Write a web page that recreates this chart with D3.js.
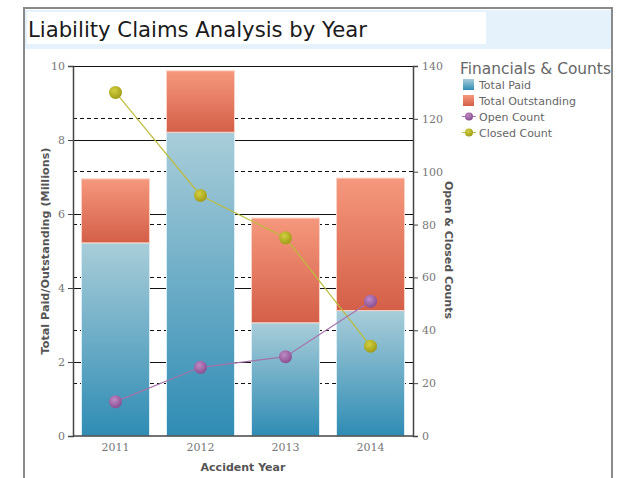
<!DOCTYPE html>
<html><head><meta charset="utf-8">
<script src="https://cdn.jsdelivr.net/npm/d3@7"></script>
<style>body{margin:0;background:#fff}svg{display:block}</style>
</head><body>
<script>
const years = ["2011","2012","2013","2014"];
const totalPaid = [5.22, 8.21, 3.06, 3.39];
const totalOutstanding = [1.73, 1.66, 2.83, 3.58];
const openCount = [13, 26, 30, 51];
const closedCount = [130, 91, 75, 34];
const leftTicks = [0,2,4,6,8,10];
const rightTicks = [0,20,40,60,80,100,120,140];
const legendLabels = ["Total Paid","Total Outstanding","Open Count","Closed Count"];

const W=625,H=478;
const svg=d3.select("body").append("svg").attr("width",W).attr("height",H);
const defs=svg.append("defs");
function lg(id,c1,c2){const g=defs.append("linearGradient").attr("id",id).attr("x1",0).attr("y1",0).attr("x2",0).attr("y2",1);
 g.append("stop").attr("offset","0%").attr("stop-color",c1);g.append("stop").attr("offset","100%").attr("stop-color",c2);}
lg("gPaid","#a9cdd9","#2f8cb4");
lg("gOut","#f5987d","#d45f48");
function rg(id,c1,c2){const g=defs.append("radialGradient").attr("id",id).attr("cx","40%").attr("cy","35%").attr("r","65%");
 g.append("stop").attr("offset","0%").attr("stop-color",c1);g.append("stop").attr("offset","100%").attr("stop-color",c2);}
rg("gOpen","#c08ac4","#8a4f92");
rg("gClosed","#d2d040","#a09c18");

// frame
svg.append("rect").attr("x",24).attr("y",8).attr("width",588).attr("height",480).attr("fill","#fff").attr("stroke","#8a8a8a").attr("stroke-width",2);
svg.append("rect").attr("x",25).attr("y",10).attr("width",586).attr("height",39).attr("fill","#e6f2fb");
svg.append("rect").attr("x",27).attr("y",12).attr("width",459).attr("height",32).attr("fill","#fff");
svg.append("text").attr("x",28).attr("y",37).text("Liability Claims Analysis by Year")
 .attr("font-family","DejaVu Sans").attr("font-size",21.2).attr("fill","#1a1a1a");

const m={l:73,r:413,t:66,b:436};
const x=d3.scaleBand().domain(years).range([m.l,m.r]).paddingInner(0.2).paddingOuter(0.1);
const yL=d3.scaleLinear().domain([0,10]).range([m.b,m.t]);
const yR=d3.scaleLinear().domain([0,140]).range([m.b,m.t]);

// gridlines
svg.append("g").selectAll("line").data(leftTicks.filter(d=>d>0)).join("line")
 .attr("x1",m.l).attr("x2",m.r).attr("y1",d=>yL(d)).attr("y2",d=>yL(d)).attr("stroke","#111").attr("stroke-width",1).attr("shape-rendering","crispEdges");
svg.append("g").selectAll("line").data(rightTicks.filter(d=>d>0&&d<140)).join("line")
 .attr("x1",m.l).attr("x2",m.r).attr("y1",d=>yR(d)).attr("y2",d=>yR(d)).attr("stroke","#111").attr("stroke-dasharray","4,3").attr("shape-rendering","crispEdges");

// bars
const bars=svg.append("g");
bars.selectAll(".paid").data(years).join("rect")
 .attr("x",d=>x(d)).attr("width",x.bandwidth())
 .attr("y",(d,i)=>yL(totalPaid[i])).attr("height",(d,i)=>yL(0)-yL(totalPaid[i]))
 .attr("fill","url(#gPaid)").attr("stroke","#d8eef4").attr("stroke-width",1);
bars.selectAll(".out").data(years).join("rect")
 .attr("x",d=>x(d)).attr("width",x.bandwidth())
 .attr("y",(d,i)=>yL(totalPaid[i]+totalOutstanding[i])).attr("height",(d,i)=>yL(totalPaid[i])-yL(totalPaid[i]+totalOutstanding[i]))
 .attr("fill","url(#gOut)").attr("stroke","#fbd3c6").attr("stroke-width",1);

// axes
const tickFont="DejaVu Serif";
const axL=svg.append("g").attr("transform",`translate(${m.l},0)`).call(d3.axisLeft(yL).tickValues(leftTicks).tickSize(5).tickPadding(3).tickFormat(d3.format("d")));
const axR=svg.append("g").attr("transform",`translate(${m.r},0)`).call(d3.axisRight(yR).tickValues(rightTicks).tickSize(5).tickPadding(4).tickFormat(d3.format("d")));
const axB=svg.append("g").attr("transform",`translate(0,${m.b})`).call(d3.axisBottom(x).tickSize(0).tickPadding(7));
[axL,axR,axB].forEach(a=>{a.select(".domain").attr("stroke","#444").attr("stroke-width",1.5);
 a.selectAll(".tick line").attr("stroke","#444");
 a.selectAll("text").attr("font-family",tickFont).attr("font-size",11).attr("fill","#777");});
axB.select(".domain").attr("d",`M${m.l},0H${m.r}`);

// axis titles
svg.append("text").attr("transform","translate(49,251) rotate(-90)").attr("text-anchor","middle")
 .text("Total Paid/Outstanding (Millions)").attr("font-family","DejaVu Sans").attr("font-weight","bold").attr("font-size",11.2).attr("fill","#555");
svg.append("text").attr("transform","translate(445,250) rotate(90)").attr("text-anchor","middle")
 .text("Open & Closed Counts").attr("font-family","DejaVu Sans").attr("font-weight","bold").attr("font-size",11).attr("fill","#555");
svg.append("text").attr("x",243).attr("y",471).attr("text-anchor","middle")
 .text("Accident Year").attr("font-family","DejaVu Sans").attr("font-weight","bold").attr("font-size",11).attr("fill","#555");

// lines
const cx=d=>x(d)+x.bandwidth()/2;
const line=(arr)=>d3.line().x((d,i)=>cx(years[i])).y(d=>yR(d))(arr);
svg.append("path").attr("d",line(closedCount)).attr("fill","none").attr("stroke","#bcbc3a").attr("stroke-width",1.2);
svg.append("path").attr("d",line(openCount)).attr("fill","none").attr("stroke","#a572aa").attr("stroke-width",1.2);
svg.append("g").selectAll("circle").data(closedCount).join("circle").attr("cx",(d,i)=>cx(years[i])).attr("cy",d=>yR(d)).attr("r",6.5).attr("fill","url(#gClosed)");
svg.append("g").selectAll("circle").data(openCount).join("circle").attr("cx",(d,i)=>cx(years[i])).attr("cy",d=>yR(d)).attr("r",6.5).attr("fill","url(#gOpen)");

// legend
const lgG=svg.append("g");
lgG.append("text").attr("x",460).attr("y",74).text("Financials & Counts").attr("font-family","DejaVu Sans").attr("font-size",15.4).attr("fill","#666");
const rowY=[84,100,116,132];
legendLabels.forEach((lab,i)=>{
 const y=rowY[i];
 if(i<2){lgG.append("rect").attr("x",463).attr("y",y-5).attr("width",11).attr("height",11).attr("fill",i==0?"url(#gPaid)":"url(#gOut)");}
 else{const c=i==2?"#a572aa":"#bcbc3a";
  lgG.append("line").attr("x1",462).attr("x2",476).attr("y1",y+0.5).attr("y2",y+0.5).attr("stroke",c);
  lgG.append("circle").attr("cx",469).attr("cy",y+0.5).attr("r",4).attr("fill",i==2?"url(#gOpen)":"url(#gClosed)");}
 lgG.append("text").attr("x",479).attr("y",y+4.5).text(lab).attr("font-family","DejaVu Sans").attr("font-size",11).attr("fill","#666");
});
</script>
</body></html>
